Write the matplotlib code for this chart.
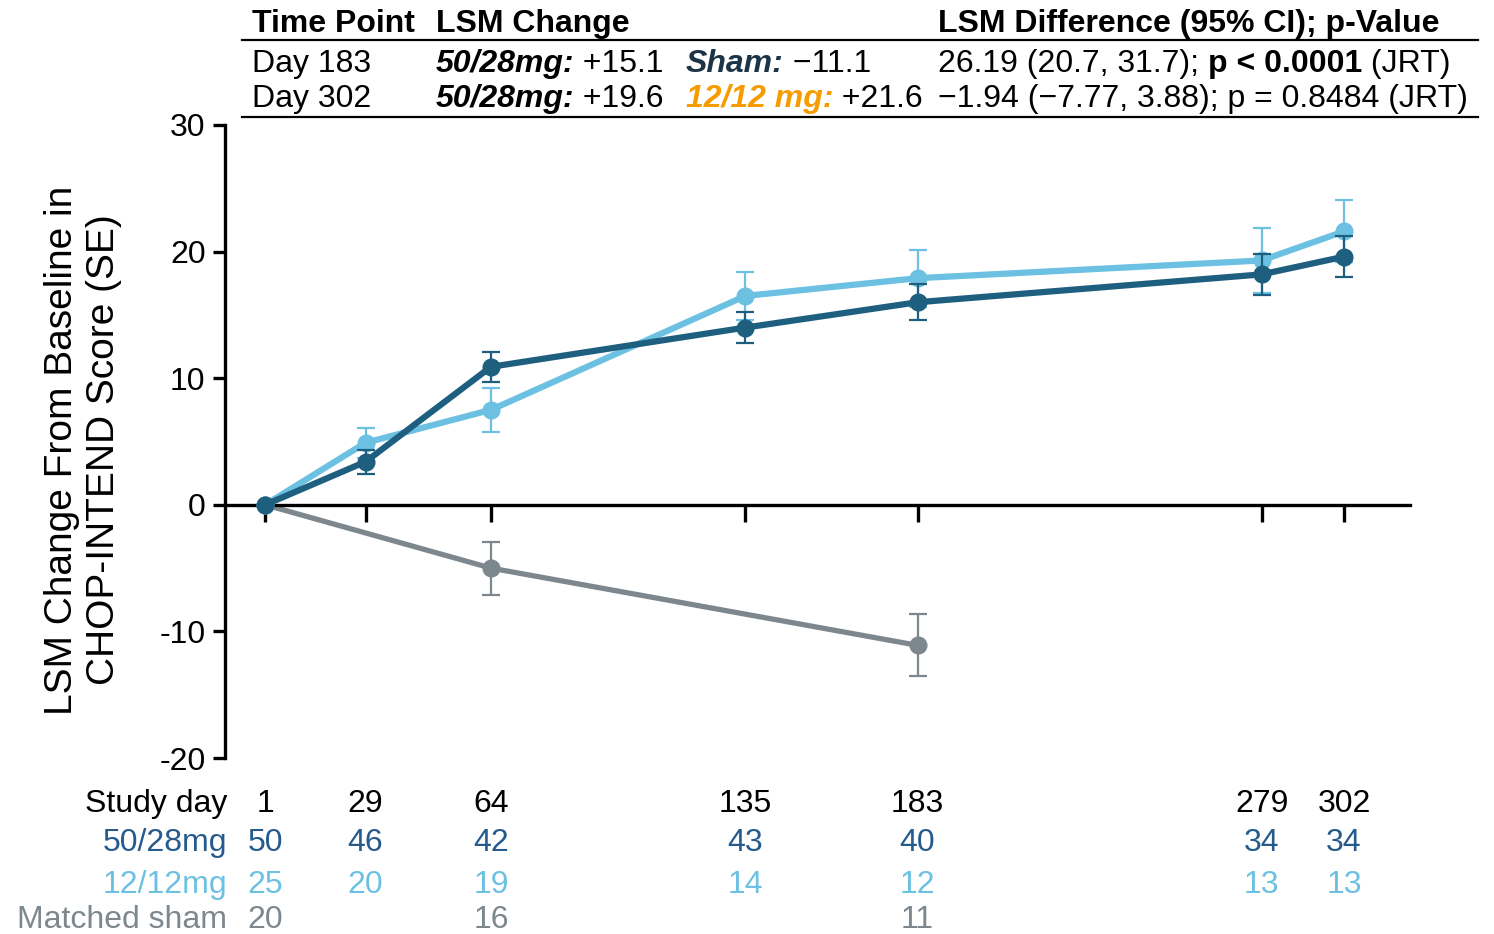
import matplotlib.pyplot as plt
from matplotlib.transforms import blended_transform_factory

plt.rcParams['font.family'] = ['Liberation Sans', 'DejaVu Sans']
plt.rcParams['axes.unicode_minus'] = False

# study visits and LSM change from baseline (SE)
study_days = [1, 29, 64, 135, 183, 279, 302]
dose_50_28 = [0.0, 3.4, 10.9, 14.0, 16.0, 18.2, 19.6]
dose_50_28_se = [0.0, 0.93, 1.17, 1.2, 1.43, 1.62, 1.6]
dose_12_12 = [0.0, 4.9, 7.5, 16.5, 17.9, 19.3, 21.6]
dose_12_12_se = [0.0, 1.2, 1.74, 1.9, 2.25, 2.6, 2.45]
sham_days = [1, 64, 183]
sham = [0.0, -5.0, -11.1]
sham_se = [0.0, 2.1, 2.45]

# patients at risk
n_50_28 = [50, 46, 42, 43, 40, 34, 34]
n_12_12 = [25, 20, 19, 14, 12, 13, 13]
n_sham = [20, 16, 11]

y_ticks = [30, 20, 10, 0, -10, -20]

DARK = "#1e5f80"
DARK_TXT = "#245a8c"
LIGHT = "#6cc1e2"
GREY = "#7d878e"
ORANGE = "#f59c00"
NAVY = "#1c3448"

W, H = 1494, 934
FS = 23


def px(x, y):
    return x / W, 1 - y / H


fig = plt.figure(figsize=(W / 100, H / 100), dpi=100)
ax = fig.add_axes([225 / W, 1 - 758 / H, 1185 / W, (758 - 125) / H])


def draw_series(days, vals, se, color, lw, z):
    ax.errorbar(days[1:], vals[1:], yerr=se[1:], fmt='none', ecolor=color,
                elinewidth=1.6, capsize=6.5, capthick=1.6, zorder=z)
    ax.plot(days, vals, color=color, lw=lw, marker='o', markersize=12,
            solid_capstyle='round', zorder=z + 0.1, clip_on=False)


draw_series(sham_days, sham, sham_se, GREY, 3.8, 2)
draw_series(study_days, dose_12_12, dose_12_12_se, LIGHT, 4.5, 3)
draw_series(study_days, dose_50_28, dose_50_28_se, DARK, 4.5, 4)

ax.set_xlim(-10.2, 320.4)
ax.set_ylim(-20, 30)
for side in ['top', 'right']:
    ax.spines[side].set_visible(False)
ax.spines['bottom'].set_position(('data', 0))
ax.spines['bottom'].set_linewidth(2.4)
ax.spines['left'].set_linewidth(2.4)
ax.set_xticks(study_days)
ax.set_xticklabels([])
ax.tick_params(axis='x', direction='out', length=12, width=2.4)
ax.set_yticks(y_ticks)
ax.set_yticklabels([str(t) for t in y_ticks])
ax.tick_params(axis='y', direction='out', length=9, width=2.4, labelsize=FS, pad=5)

fig.text(*px(83, 450), "LSM Change From Baseline in\nCHOP-INTEND Score (SE)",
         rotation=90, ha='center', va='center', multialignment='center',
         fontsize=28, linespacing=1.18)

# numbers at each visit
tr = blended_transform_factory(ax.transData, fig.transFigure)
rows = [
    ("Study day", "black", study_days, study_days, 812),
    ("50/28mg", DARK_TXT, study_days, n_50_28, 851),
    ("12/12mg", LIGHT, study_days, n_12_12, 893),
    ("Matched sham", GREY, sham_days, n_sham, 928),
]
for label, color, days, counts, base in rows:
    fig.text(*px(227, base), label, ha='right', va='baseline', color=color, fontsize=FS)
    for d, n in zip(days, counts):
        ax.text(d, 1 - base / H, str(n), transform=tr, ha='center', va='baseline',
                color=color, fontsize=FS)

# summary table above the plot
renderer = fig.canvas.get_renderer()


def text_run(x, y, parts):
    xf, yf = px(x, y)
    for s, kw in parts:
        t = fig.text(xf, yf, s, va='baseline', fontsize=FS, **kw)
        bb = t.get_window_extent(renderer=renderer)
        xf += bb.width / W


bold = {'fontweight': 'bold'}
bold_it = {'fontweight': 'bold', 'fontstyle': 'italic'}

text_run(252, 32, [("Time Point", bold)])
text_run(436, 32, [("LSM Change", bold)])
text_run(938, 32, [("LSM Difference (95% CI); p-Value", bold)])

text_run(252, 72, [("Day 183", {})])
text_run(436, 72, [("50/28mg:", bold_it), (" +15.1", {})])
text_run(686, 72, [("Sham:", dict(bold_it, color=NAVY)), (" \u221211.1", {})])
text_run(938, 72, [("26.19 (20.7, 31.7); ", {}), ("p < 0.0001", bold), (" (JRT)", {})])

text_run(252, 107, [("Day 302", {})])
text_run(436, 107, [("50/28mg:", bold_it), (" +19.6", {})])
text_run(686, 107, [("12/12 mg:", dict(bold_it, color=ORANGE)), (" +21.6", {})])
text_run(938, 107, [("\u22121.94 (\u22127.77, 3.88); p = 0.8484 (JRT)", {})])

for yl in (40, 117):
    fig.add_artist(plt.Line2D([242 / W, 1478 / W], [1 - yl / H] * 2,
                              color="black", lw=1.6))

fig.savefig("out.png", dpi=100)
